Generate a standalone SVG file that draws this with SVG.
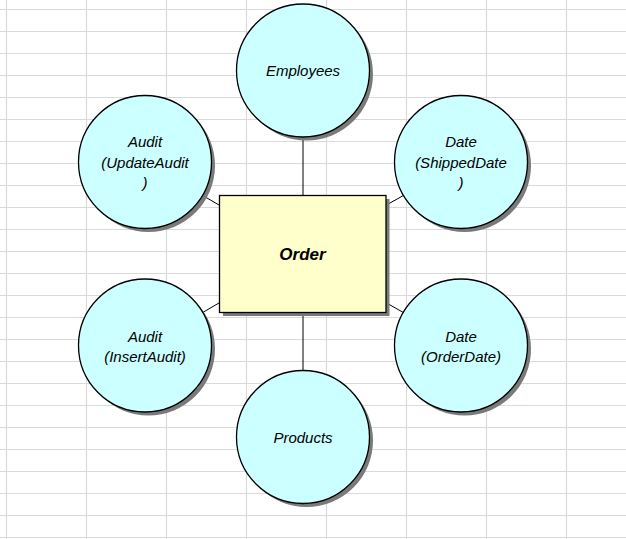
<svg xmlns="http://www.w3.org/2000/svg" width="626" height="539" viewBox="0 0 626 539">
<defs>
<style>
.grid line{stroke:#dadada;stroke-width:1.2}
.shadow{fill:#7a7a7a}
.ent{fill:#ccffff;stroke:#000;stroke-width:1.3}
.fact{fill:#ffffcc;stroke:#000;stroke-width:1.3}
.conn line{stroke:#000;stroke-width:1}
text{font-family:"Liberation Sans",Arial,sans-serif;font-style:italic;font-size:15px;text-anchor:middle;fill:#000}
.bold{font-weight:bold;font-size:17px}
</style>
</defs>
<rect width="626" height="539" fill="#fff"/>
<g class="grid">
<line x1="6.5" y1="0" x2="6.5" y2="539"/><line x1="86.5" y1="0" x2="86.5" y2="539"/><line x1="166.5" y1="0" x2="166.5" y2="539"/><line x1="246.5" y1="0" x2="246.5" y2="539"/><line x1="326.5" y1="0" x2="326.5" y2="539"/><line x1="406.5" y1="0" x2="406.5" y2="539"/><line x1="486.5" y1="0" x2="486.5" y2="539"/><line x1="566.5" y1="0" x2="566.5" y2="539"/>
<line x1="0" y1="9.5" x2="626" y2="9.5"/><line x1="0" y1="31.5" x2="626" y2="31.5"/><line x1="0" y1="53.5" x2="626" y2="53.5"/><line x1="0" y1="75.5" x2="626" y2="75.5"/><line x1="0" y1="97.5" x2="626" y2="97.5"/><line x1="0" y1="119.5" x2="626" y2="119.5"/><line x1="0" y1="141.5" x2="626" y2="141.5"/><line x1="0" y1="163.5" x2="626" y2="163.5"/><line x1="0" y1="185.5" x2="626" y2="185.5"/><line x1="0" y1="207.5" x2="626" y2="207.5"/><line x1="0" y1="229.5" x2="626" y2="229.5"/><line x1="0" y1="251.5" x2="626" y2="251.5"/><line x1="0" y1="273.5" x2="626" y2="273.5"/><line x1="0" y1="295.5" x2="626" y2="295.5"/><line x1="0" y1="317.5" x2="626" y2="317.5"/><line x1="0" y1="339.5" x2="626" y2="339.5"/><line x1="0" y1="361.5" x2="626" y2="361.5"/><line x1="0" y1="383.5" x2="626" y2="383.5"/><line x1="0" y1="405.5" x2="626" y2="405.5"/><line x1="0" y1="427.5" x2="626" y2="427.5"/><line x1="0" y1="449.5" x2="626" y2="449.5"/><line x1="0" y1="471.5" x2="626" y2="471.5"/><line x1="0" y1="493.5" x2="626" y2="493.5"/><line x1="0" y1="515.5" x2="626" y2="515.5"/><line x1="0" y1="537.5" x2="626" y2="537.5"/>
</g>
<g id="connectors" class="conn">
<line x1="303" y1="137" x2="303" y2="195.5"/>
<line x1="303" y1="312.5" x2="303" y2="370"/>
<line x1="202.5" y1="195.4" x2="219.5" y2="205.3"/>
<line x1="403.5" y1="195.4" x2="386" y2="205.3"/>
<line x1="202.5" y1="312.6" x2="219.5" y2="302.7"/>
<line x1="403.5" y1="312.6" x2="386" y2="302.7"/>
</g>
<g id="order">
<rect class="shadow" x="223" y="199" width="166.5" height="117"/>
<rect class="fact" x="219.5" y="195.5" width="166.5" height="117"/>
<text class="bold" x="302.5" y="259.5">Order</text>
</g>
<g id="employees">
<circle class="shadow" cx="306.5" cy="74" r="66.5"/>
<circle class="ent" cx="303" cy="70.5" r="66.5"/>
<text x="303" y="75.5">Employees</text>
</g>
<g id="audit-update">
<circle class="shadow" cx="148.5" cy="165.5" r="66.5"/>
<circle class="ent" cx="145" cy="162" r="66.5"/>
<text x="145" y="147">Audit</text>
<text x="145" y="167.5">(UpdateAudit</text>
<text x="145" y="188">)</text>
</g>
<g id="date-shipped">
<circle class="shadow" cx="464.5" cy="165.5" r="66.5"/>
<circle class="ent" cx="461" cy="162" r="66.5"/>
<text x="461" y="147">Date</text>
<text x="461" y="167.5">(ShippedDate</text>
<text x="461" y="188">)</text>
</g>
<g id="audit-insert">
<circle class="shadow" cx="148.5" cy="349" r="66.5"/>
<circle class="ent" cx="145" cy="345.5" r="66.5"/>
<text x="145" y="342">Audit</text>
<text x="145" y="362">(InsertAudit)</text>
</g>
<g id="date-order">
<circle class="shadow" cx="464.5" cy="349" r="66.5"/>
<circle class="ent" cx="461" cy="345.5" r="66.5"/>
<text x="461" y="342">Date</text>
<text x="461" y="362">(OrderDate)</text>
</g>
<g id="products">
<circle class="shadow" cx="306.5" cy="440.5" r="66.5"/>
<circle class="ent" cx="303" cy="437" r="66.5"/>
<text x="303" y="442.5">Products</text>
</g>
</svg>
